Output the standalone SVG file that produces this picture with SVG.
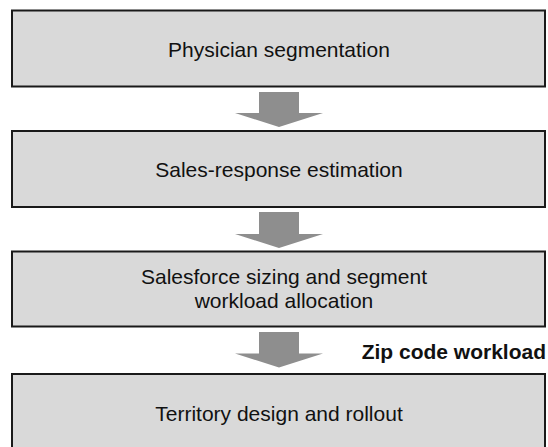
<svg xmlns="http://www.w3.org/2000/svg" width="548" height="447" viewBox="0 0 548 447">
<style>
.box{fill:#d9d9d9;stroke:#1a1a1a;stroke-width:2}
.t{font-family:"Liberation Sans",Arial,sans-serif;font-size:21px;fill:#111;text-anchor:middle}
.b{font-family:"Liberation Sans",Arial,sans-serif;font-size:21px;font-weight:bold;fill:#111;text-anchor:end}
.arr{fill:#8e8e8e}
</style>
<rect width="548" height="447" fill="#fff"/>
<g id="connectors">
<polygon class="arr" points="259,92 299,92 299,113 323,113 279,127 235,113 259,113"/>
<polygon class="arr" points="259,212 299,212 299,234 323,234 279,248 235,234 259,234"/>
<polygon class="arr" points="259,332 299,332 299,353.5 323,353.5 279,367.5 235,353.5 259,353.5"/>
<text class="b" x="546" y="359">Zip code workload</text>
</g>
<g id="n1">
<rect class="box" x="12" y="10.5" width="533" height="76"/>
<text class="t" x="279" y="57">Physician segmentation</text>
</g>
<g id="n2">
<rect class="box" x="12" y="131" width="533" height="76"/>
<text class="t" x="279" y="177">Sales-response estimation</text>
</g>
<g id="n3">
<rect class="box" x="12" y="251.5" width="533" height="75"/>
<text class="t" x="284" y="283.5">Salesforce sizing and segment</text>
<text class="t" x="284" y="307.5">workload allocation</text>
</g>
<g id="n4">
<rect class="box" x="12" y="374" width="533" height="80"/>
<text class="t" x="279" y="420.5">Territory design and rollout</text>
</g>
</svg>
